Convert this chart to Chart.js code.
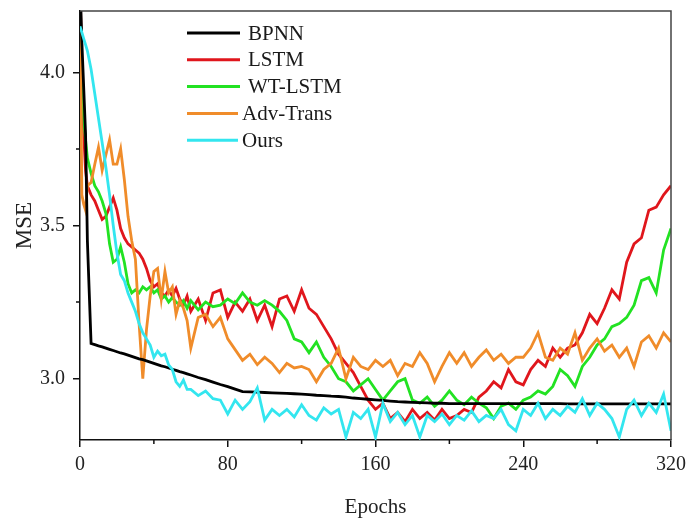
<!DOCTYPE html>
<html><head><meta charset="utf-8">
<script src="https://cdn.jsdelivr.net/npm/chart.js@4.4.0/dist/chart.umd.min.js"></script>
<style>html,body{margin:0;padding:0;background:#fff;} #wrap{width:689px;height:518px;}</style>
</head><body><div id="wrap"><canvas id="c" width="689" height="518"></canvas></div>
<script>
const epochs = [0,1,2,3,4,
 6,8,10,12,14,16,18,20,22,24,26,28,30,32,34,36,38,40,42,44,46,48,50,52,54,56,58,60,
 64,68,72,76,80,84,88,92,96,100,104,108,112,116,120,124,128,132,136,140,144,148,152,156,160,
 164,168,172,176,180,184,188,192,196,200,204,208,212,216,220,224,228,232,236,240,244,248,252,256,260,
 264,268,272,276,280,284,288,292,296,300,304,308,312,316,320];

const bpnn = [4.3,4.1,3.95,3.8,3.45,
 3.115,3.111,3.107,3.104,3.100,3.096,3.092,3.088,3.084,3.081,3.077,3.073,3.069,3.065,3.062,3.058,3.054,3.050,3.046,3.042,3.039,3.035,3.031,3.027,3.023,3.020,3.016,3.012,
 3.004,2.997,2.989,2.981,2.974,2.966,2.958,2.957,2.956,2.955,2.954,2.953,2.952,2.951,2.950,2.948,2.946,2.945,2.943,2.942,2.940,2.937,2.935,2.933,2.931,
 2.929,2.927,2.925,2.924,2.923,2.922,2.921,2.920,2.920,2.919,2.919,2.919,2.919,2.919,2.919,2.919,2.919,2.919,2.919,2.919,2.919,2.919,2.919,2.919,2.919,
 2.918,2.918,2.918,2.918,2.918,2.918,2.918,2.918,2.918,2.918,2.918,2.918,2.918,2.918,2.918];

const lstm = [4.3,4.0,3.8,3.68,3.63,
 3.6,3.58,3.55,3.52,3.53,3.56,3.59,3.55,3.49,3.46,3.44,3.43,3.42,3.41,3.39,3.36,3.32,3.30,3.31,3.28,3.27,3.29,3.27,3.295,3.26,3.24,3.27,3.22,
 3.26,3.19,3.28,3.29,3.2,3.25,3.22,3.26,3.19,3.24,3.17,3.26,3.27,3.22,3.29,3.23,3.21,3.17,3.13,3.08,3.05,3.02,2.975,2.93,2.9,
 2.92,2.87,2.89,2.86,2.9,2.87,2.89,2.865,2.9,2.87,2.88,2.9,2.89,2.94,2.96,2.99,2.97,3.03,2.99,2.98,3.03,3.06,3.04,3.1,3.07,
 3.1,3.11,3.15,3.21,3.18,3.23,3.29,3.26,3.38,3.44,3.46,3.55,3.56,3.6,3.63];

const wtLstm = [4.25,3.98,3.85,3.78,3.72,
 3.67,3.63,3.61,3.58,3.54,3.44,3.38,3.39,3.43,3.38,3.31,3.28,3.29,3.28,3.3,3.29,3.3,3.28,3.29,3.26,3.27,3.25,3.265,3.25,3.24,3.255,3.23,3.255,
 3.225,3.25,3.235,3.24,3.26,3.245,3.28,3.25,3.24,3.255,3.24,3.22,3.19,3.13,3.12,3.085,3.12,3.07,3.04,3.0,2.99,2.96,2.98,3.0,2.965,
 2.93,2.96,2.99,3.0,2.93,2.92,2.94,2.91,2.93,2.96,2.93,2.915,2.94,2.92,2.905,2.87,2.91,2.92,2.9,2.93,2.94,2.96,2.95,2.975,3.03,
 3.01,2.975,3.04,3.07,3.11,3.13,3.17,3.18,3.2,3.24,3.32,3.33,3.28,3.42,3.49];

const advTrans = [4.3,3.6,3.57,3.55,3.63,
 3.64,3.7,3.755,3.68,3.73,3.78,3.7,3.7,3.75,3.65,3.53,3.45,3.39,3.18,3.0,3.16,3.27,3.35,3.36,3.26,3.35,3.28,3.3,3.21,3.255,3.23,3.19,3.1,
 3.2,3.21,3.17,3.2,3.13,3.095,3.06,3.08,3.046,3.07,3.05,3.02,3.05,3.035,3.04,3.03,2.99,3.03,3.05,3.1,3.0,3.07,3.04,3.03,3.06,
 3.04,3.06,3.01,3.05,3.04,3.085,3.05,2.99,3.04,3.085,3.05,3.085,3.04,3.07,3.094,3.06,3.08,3.05,3.07,3.07,3.1,3.15,3.07,3.06,3.1,
 3.08,3.15,3.06,3.1,3.13,3.09,3.11,3.07,3.1,3.04,3.12,3.14,3.1,3.15,3.12];

const ours = [4.15,4.13,4.11,4.09,4.07,
 4.01,3.93,3.85,3.77,3.69,3.6,3.5,3.41,3.34,3.32,3.28,3.25,3.22,3.18,3.15,3.13,3.11,3.07,3.09,3.075,3.08,3.045,3.03,2.99,2.975,2.995,2.965,2.965,
 2.945,2.96,2.935,2.93,2.885,2.93,2.9,2.925,2.97,2.865,2.9,2.88,2.9,2.875,2.915,2.88,2.865,2.905,2.885,2.9,2.81,2.89,2.87,2.9,2.81,
 2.92,2.86,2.89,2.85,2.88,2.81,2.88,2.86,2.885,2.85,2.88,2.865,2.895,2.86,2.88,2.87,2.9,2.85,2.83,2.9,2.88,2.92,2.87,2.9,2.88,
 2.91,2.89,2.935,2.88,2.92,2.9,2.87,2.81,2.9,2.93,2.88,2.92,2.89,2.95,2.83];

const seriesNames = ['BPNN','LSTM','WT-LSTM','Adv-Trans','Ours'];
const seriesValues = [bpnn, lstm, wtLstm, advTrans, ours];
const seriesColors = ['#000000','#e0161c','#22e222','#f08c2a','#33e6ef'];
const seriesOrder = [1,4,3,2,0];

const xTickValues = [0,80,160,240,320];
const xMinorTicks = [40,120,200,280];
const yTickValues = [3.0,3.5,4.0];
const yMinorTicks = [3.25,3.75];

const FONT = "'Liberation Serif','Times New Roman',serif";
Chart.defaults.font.family = FONT;
Chart.defaults.color = '#222';

const datasets = seriesNames.map((name, i) => ({
  label: name,
  data: epochs.map((e, j) => ({x: e, y: seriesValues[i][j]})),
  borderColor: seriesColors[i],
  backgroundColor: seriesColors[i],
  borderWidth: 2.8,
  pointRadius: 0,
  tension: 0,
  order: seriesOrder[i]
}));

const framePlugin = {
  id: 'frame',
  afterDatasetsDraw(chart) {
    const {ctx, chartArea: a, scales: {x, y}} = chart;
    ctx.save();
    ctx.strokeStyle = '#444';
    ctx.lineWidth = 1.5;
    ctx.beginPath();
    ctx.moveTo(a.left, a.top);
    ctx.lineTo(a.right, a.top);
    ctx.lineTo(a.right, a.bottom);
    ctx.stroke();
    ctx.strokeStyle = '#111';
    ctx.beginPath();
    xMinorTicks.forEach(v => {
      const px = x.getPixelForValue(v);
      ctx.moveTo(px, a.bottom);
      ctx.lineTo(px, a.bottom + 4);
    });
    yMinorTicks.forEach(v => {
      const py = y.getPixelForValue(v);
      ctx.moveTo(a.left - 4, py);
      ctx.lineTo(a.left, py);
    });
    ctx.stroke();
    ctx.restore();
  }
};

const legendPlugin = {
  id: 'innerLegend',
  afterDraw(chart) {
    const ctx = chart.ctx;
    const textX = [248, 248, 248, 242, 242];
    const lineEnd = [240, 240, 240, 238, 238];
    ctx.save();
    ctx.font = "21px " + FONT;
    ctx.textBaseline = 'middle';
    ctx.fillStyle = '#1a1a1a';
    seriesNames.forEach((name, i) => {
      const yy = 33 + i * 26.8;
      ctx.strokeStyle = seriesColors[i];
      ctx.lineWidth = 3;
      ctx.beginPath();
      ctx.moveTo(187, yy);
      ctx.lineTo(lineEnd[i], yy);
      ctx.stroke();
      ctx.fillText(name, textX[i], yy + 1);
    });
    ctx.restore();
  }
};

new Chart(document.getElementById('c'), {
  type: 'line',
  data: { datasets },
  plugins: [framePlugin, legendPlugin],
  options: {
    responsive: false,
    animation: false,
    devicePixelRatio: 1,
    layout: { padding: { top: 11, right: 18, left: 0, bottom: 0 } },
    plugins: { legend: { display: false }, tooltip: { enabled: false } },
    scales: {
      x: {
        type: 'linear', min: 0, max: 320,
        afterBuildTicks: s => { s.ticks = xTickValues.map(v => ({value: v})); },
        afterFit: s => { s.height = 78; s.paddingLeft = 0; s.paddingRight = 0; },
        grid: { drawOnChartArea: false, drawTicks: true, tickLength: 7, color: '#111', lineWidth: 1.5 },
        border: { display: true, color: '#111', width: 1.5 },
        ticks: { font: { size: 20 }, color: '#222', padding: 6, maxRotation: 0, callback: v => String(v) },
        title: { display: true, text: 'Epochs', font: { size: 21, lineHeight: 1 }, color: '#222', padding: { top: 0, bottom: 0 } }
      },
      y: {
        type: 'linear', min: 2.8, max: 4.2,
        afterBuildTicks: s => { s.ticks = yTickValues.map(v => ({value: v})); },
        afterFit: s => { s.width = 80; s.paddingTop = 0; s.paddingBottom = 0; },
        grid: { drawOnChartArea: false, drawTicks: true, tickLength: 7, color: '#111', lineWidth: 1.5 },
        border: { display: true, color: '#111', width: 1.5 },
        ticks: { font: { size: 20 }, color: '#222', padding: 8, callback: v => Number(v).toFixed(1) },
        title: { display: true, text: 'MSE', font: { size: 23, lineHeight: 1 }, color: '#222', padding: { top: 13, bottom: 0 } }
      }
    }
  }
});
</script>
</body></html>
